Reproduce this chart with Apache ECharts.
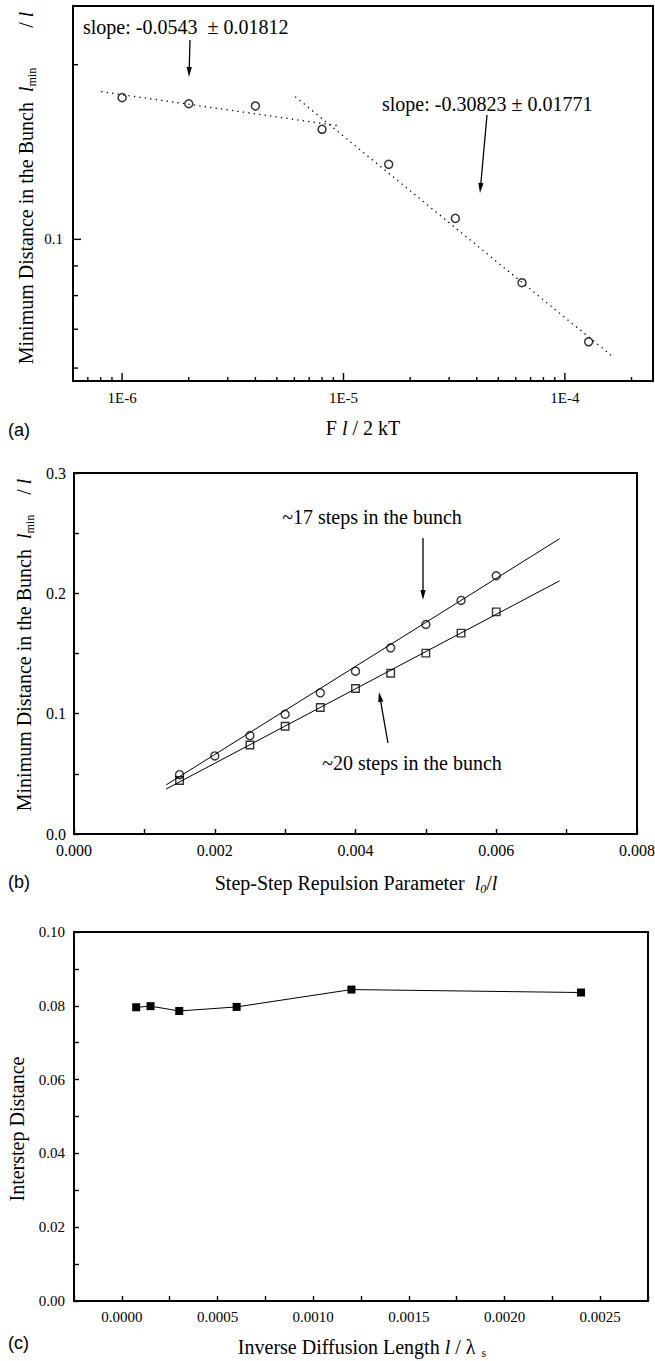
<!DOCTYPE html>
<html><head><meta charset="utf-8">
<script src="https://cdn.jsdelivr.net/npm/echarts@6/dist/echarts.min.js"></script>
<style>html,body{margin:0;padding:0;background:#fff}#c{width:655px;height:1361px}</style>
</head><body><div id="c"></div>
<script>
// ---------- Panel (a) data ----------
const aForce = [1e-6, 2e-6, 4e-6, 8e-6, 1.6e-5, 3.2e-5, 6.4e-5, 1.28e-4];
const aMinDist = [0.1755, 0.1713, 0.1698, 0.1548, 0.1347, 0.1087, 0.0842, 0.0666];
const aFit1X = [8.05e-7, 9.68e-6];
const aFit1Y = [0.1797, 0.1568];
const aFit2X = [6.05e-6, 1.635e-4];
const aFit2Y = [0.1762, 0.0629];
const aXMajorTicks = [1e-6, 1e-5, 1e-4];
const aXMajorLabels = ['1E-6', '1E-5', '1E-4'];
const aXMinorTicks = [7e-7, 8e-7, 9e-7, 2e-6, 3e-6, 4e-6, 5e-6, 6e-6, 7e-6, 8e-6, 9e-6,
  2e-5, 3e-5, 4e-5, 5e-5, 6e-5, 7e-5, 8e-5, 9e-5, 2e-4];
const aYMajorTicks = [0.1];
const aYMajorLabels = ['0.1'];
const aYMinorTicks = [0.06, 0.07, 0.08, 0.09, 0.2];
const aXRange = [6e-7, 2.5e-4];
const aYRange = [0.057, 0.2525];

// ---------- Panel (b) data ----------
const bRepulsion17 = [0.0015, 0.002, 0.0025, 0.003, 0.0035, 0.004, 0.0045, 0.005, 0.0055, 0.006];
const bDist17 = [0.0493, 0.0649, 0.0818, 0.0995, 0.1173, 0.1353, 0.1547, 0.1741, 0.1941, 0.2146];
const bRepulsion20 = [0.0015, 0.0025, 0.003, 0.0035, 0.004, 0.0045, 0.005, 0.0055, 0.006];
const bDist20 = [0.0444, 0.074, 0.0895, 0.1051, 0.1209, 0.1336, 0.1503, 0.1669, 0.1846];
const bFit17X = [0.00131, 0.0069];
const bFit17Y = [0.0408, 0.2454];
const bFit20X = [0.00131, 0.0069];
const bFit20Y = [0.0374, 0.2104];
const bXTicks = [0, 0.002, 0.004, 0.006, 0.008];
const bXTickLabels = ['0.000', '0.002', '0.004', '0.006', '0.008'];
const bYTicks = [0, 0.1, 0.2, 0.3];
const bYTickLabels = ['0.0', '0.1', '0.2', '0.3'];

// ---------- Panel (c) data ----------
const cInvDiffLen = [0.000075, 0.00015, 0.0003, 0.0006, 0.0012, 0.0024];
const cInterstep = [0.0796, 0.0799, 0.0786, 0.0797, 0.0844, 0.0836];
const cXTicks = [0, 0.0005, 0.001, 0.0015, 0.002, 0.0025];
const cXTickLabels = ['0.0000', '0.0005', '0.0010', '0.0015', '0.0020', '0.0025'];
const cYTicks = [0, 0.02, 0.04, 0.06, 0.08, 0.1];
const cYTickLabels = ['0.00', '0.02', '0.04', '0.06', '0.08', '0.10'];

// ---------- texts ----------
const aSlope1 = 'slope: -0.0543  \u00b1 0.01812';
const aSlope2 = 'slope: -0.30823 \u00b1 0.01771';
const bNote17 = '~17 steps in the bunch';
const bNote20 = '~20 steps in the bunch';

const SERIF = 'Liberation Serif, serif';
const SANS = 'Liberation Sans, sans-serif';
const zip = (xs, ys) => xs.map((x, i) => [x, ys[i]]);
const lookup = (ticks, labels) => v => {
  const i = ticks.findIndex(t => Math.abs(t - v) < 1e-9);
  return i >= 0 ? labels[i] : '';
};

const chart = echarts.init(document.getElementById('c'), null, {renderer: 'svg'});

function tickSeries(values, axis, len, labels) {
  return {
    type: 'custom', xAxisIndex: 0, yAxisIndex: 0, silent: true, clip: false, z: 5,
    data: values.map(v => axis === 'x' ? [v, aYRange[0]] : [aXRange[0], v]),
    renderItem(params, api) {
      const p = api.coord([api.value(0), api.value(1)]);
      const children = [];
      if (axis === 'x') {
        children.push({type: 'line', shape: {x1: p[0], y1: p[1], x2: p[0], y2: p[1] - len},
          style: {stroke: '#000', lineWidth: 1.4}});
        if (labels) children.push({type: 'text', x: p[0], y: p[1] + 9,
          style: {text: labels[params.dataIndex], align: 'center', verticalAlign: 'top',
            fontSize: 15, fontFamily: SERIF, fill: '#000'}});
      } else {
        children.push({type: 'line', shape: {x1: p[0], y1: p[1], x2: p[0] + len, y2: p[1]},
          style: {stroke: '#000', lineWidth: 1.4}});
        if (labels) children.push({type: 'text', x: p[0] - 10, y: p[1],
          style: {text: labels[params.dataIndex], align: 'right', verticalAlign: 'middle',
            fontSize: 15, fontFamily: SERIF, fill: '#000'}});
      }
      return {type: 'group', children};
    }
  };
}

function arrow(x1, y1, x2, y2) {
  const dx = x2 - x1, dy = y2 - y1, L = Math.hypot(dx, dy), ux = dx / L, uy = dy / L;
  const hl = 10, hw = 2.6;
  const bx = x2 - ux * hl, by = y2 - uy * hl;
  return [
    {type: 'line', shape: {x1, y1, x2: bx, y2: by}, style: {stroke: '#000', lineWidth: 1.3}},
    {type: 'polygon', shape: {points: [[x2, y2], [bx - uy * hw, by + ux * hw], [bx + uy * hw, by - ux * hw]]},
      style: {fill: '#000'}}
  ];
}

const rich = {
  n: {fontSize: 20, fontFamily: SERIF, lineHeight: 24, color: '#000'},
  i: {fontSize: 20, fontFamily: SERIF, fontStyle: 'italic', lineHeight: 24, color: '#000'},
  s: {fontSize: 12, fontFamily: SERIF, lineHeight: 12, verticalAlign: 'bottom', color: '#000'},
  si: {fontSize: 12, fontFamily: SERIF, fontStyle: 'italic', lineHeight: 12, verticalAlign: 'bottom', color: '#000'},
  g: {width: 40, lineHeight: 24},
  h: {width: 20, lineHeight: 24}
};
function title(text, x, y, rot) {
  return {type: 'text', x, y, rotation: rot || 0, silent: true,
    style: {text, rich, align: 'center', verticalAlign: 'middle', fill: '#000', fontSize: 20, fontFamily: SERIF}};
}
function plain(text, x, y, align, size, family) {
  return {type: 'text', x, y, silent: true,
    style: {text, align, verticalAlign: 'middle', fill: '#000', fontSize: size, fontFamily: family}};
}

const axisTickStyle = {show: true, inside: true, length: 5, lineStyle: {color: '#000', width: 1.4}};
const axisLineStyle = {show: true, onZero: false, lineStyle: {color: '#000', width: 2}};
const gridBase = {show: true, borderColor: '#000', borderWidth: 2, backgroundColor: 'transparent', containLabel: false, outerBoundsMode: 'none'};

const option = {
  animation: false,
  backgroundColor: '#fff',
  grid: [
    Object.assign({left: 73, top: 6, width: 580, height: 375}, gridBase),
    Object.assign({left: 74, top: 473, width: 563, height: 361}, gridBase),
    Object.assign({left: 74, top: 932, width: 574, height: 369}, gridBase)
  ],
  xAxis: [
    {type: 'log', logBase: 10, gridIndex: 0, min: aXRange[0], max: aXRange[1],
      axisLine: {show: false, onZero: false}, axisTick: {show: false}, axisLabel: {show: false}, splitLine: {show: false}},
    {type: 'value', gridIndex: 1, min: 0, max: 0.008, interval: 0.001,
      axisLine: axisLineStyle, axisTick: axisTickStyle,
      axisLabel: {margin: 8, fontSize: 16, fontFamily: SERIF, color: '#000', formatter: lookup(bXTicks, bXTickLabels)},
      splitLine: {show: false}},
    {type: 'value', gridIndex: 2, min: -0.00025, max: 0.00275, interval: 0.00025,
      axisLine: axisLineStyle, axisTick: axisTickStyle,
      axisLabel: {margin: 8, fontSize: 15, fontFamily: SERIF, color: '#000', formatter: lookup(cXTicks, cXTickLabels)},
      splitLine: {show: false}}
  ],
  yAxis: [
    {type: 'log', logBase: 10, gridIndex: 0, min: aYRange[0], max: aYRange[1],
      axisLine: {show: false, onZero: false}, axisTick: {show: false}, axisLabel: {show: false}, splitLine: {show: false}},
    {type: 'value', gridIndex: 1, min: 0, max: 0.3, interval: 0.05,
      axisLine: axisLineStyle, axisTick: axisTickStyle,
      axisLabel: {margin: 8, fontSize: 16, fontFamily: SERIF, color: '#000', formatter: lookup(bYTicks, bYTickLabels)},
      splitLine: {show: false}},
    {type: 'value', gridIndex: 2, min: 0, max: 0.1, interval: 0.01,
      axisLine: axisLineStyle, axisTick: axisTickStyle,
      axisLabel: {margin: 9, fontSize: 15, fontFamily: SERIF, color: '#000', formatter: lookup(cYTicks, cYTickLabels)},
      splitLine: {show: false}}
  ],
  series: [
    // (a)
    {type: 'line', xAxisIndex: 0, yAxisIndex: 0, data: zip(aFit1X, aFit1Y), symbol: 'none', silent: true,
      lineStyle: {color: '#000', width: 1.3, type: [1.3, 4.2]}},
    {type: 'line', xAxisIndex: 0, yAxisIndex: 0, data: zip(aFit2X, aFit2Y), symbol: 'none', silent: true,
      lineStyle: {color: '#000', width: 1.3, type: [1.3, 4.2]}},
    {type: 'scatter', xAxisIndex: 0, yAxisIndex: 0, data: zip(aForce, aMinDist), symbol: 'circle', symbolSize: 8,
      itemStyle: {color: 'rgba(255,255,255,0)', borderColor: '#000', borderWidth: 1.5}, z: 4},
    tickSeries(aXMajorTicks, 'x', 8, aXMajorLabels),
    tickSeries(aXMinorTicks, 'x', 4, null),
    tickSeries(aYMajorTicks, 'y', 8, aYMajorLabels),
    tickSeries(aYMinorTicks, 'y', 5, null),
    // (b)
    {type: 'line', xAxisIndex: 1, yAxisIndex: 1, data: zip(bFit17X, bFit17Y), symbol: 'none', silent: true,
      lineStyle: {color: '#000', width: 1}},
    {type: 'line', xAxisIndex: 1, yAxisIndex: 1, data: zip(bFit20X, bFit20Y), symbol: 'none', silent: true,
      lineStyle: {color: '#000', width: 1}},
    {type: 'scatter', xAxisIndex: 1, yAxisIndex: 1, data: zip(bRepulsion17, bDist17), symbol: 'circle', symbolSize: 8,
      itemStyle: {color: 'rgba(255,255,255,0)', borderColor: '#000', borderWidth: 1.4}, z: 4},
    {type: 'scatter', xAxisIndex: 1, yAxisIndex: 1, data: zip(bRepulsion20, bDist20), symbol: 'rect', symbolSize: 7.5,
      itemStyle: {color: 'rgba(255,255,255,0)', borderColor: '#000', borderWidth: 1.4}, z: 4},
    // (c)
    {type: 'line', xAxisIndex: 2, yAxisIndex: 2, data: zip(cInvDiffLen, cInterstep), symbol: 'rect', symbolSize: 8,
      showSymbol: true, itemStyle: {color: '#000', borderWidth: 0}, lineStyle: {color: '#000', width: 1}}
  ],
  graphic: {elements: [
    // (a)
    title('{n|Minimum Distance in the Bunch  }{i|l}{s|min}{g|}{n|/ }{i|l}', 26, 188, Math.PI / 2),
    title('{n|F }{i|l}{n| / 2 kT}', 363, 428),
    plain('(a)', 8, 430, 'left', 18, SANS),
    plain(aSlope1, 83, 27, 'left', 20, SERIF),
    plain(aSlope2, 382, 104, 'left', 20, SERIF),
    ...arrow(190, 40, 189, 77),
    ...arrow(487, 115, 480, 193),
    // (b)
    title('{n|Minimum Distance in the Bunch  }{i|l}{s|min}{h|}{n|/ }{i|l}', 24, 645, Math.PI / 2),
    title('{n|Step-Step Repulsion Parameter  }{i|l}{si|0}{n|/}{i|l}', 356, 883),
    plain('(b)', 8, 882, 'left', 18, SANS),
    title('{n|' + bNote17 + '}', 372, 517),
    title('{n|' + bNote20 + '}', 412, 763),
    ...arrow(423, 538, 423, 600),
    ...arrow(388, 743, 379, 692),
    // (c)
    title('{n|Interstep Distance}', 17, 1129, Math.PI / 2),
    title('{n|Inverse Diffusion Length }{i|l}{n| / \u03bb}{s|  s}', 362, 1347),
    plain('(c)', 8, 1343, 'left', 18, SANS)
  ]}
};
chart.setOption(option);
</script></body></html>
